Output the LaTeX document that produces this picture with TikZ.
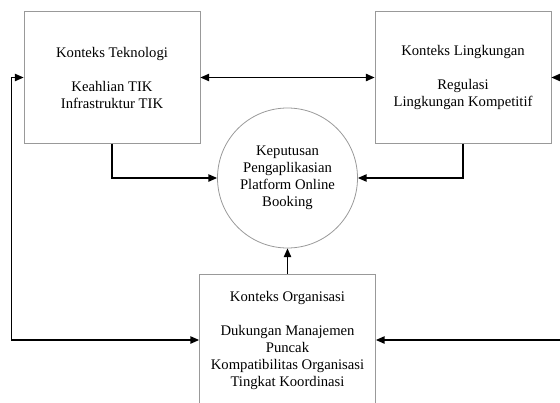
\documentclass[tikz,border=0pt]{standalone}
\usepackage{fontspec}
\setmainfont{Liberation Serif}
\usetikzlibrary{arrows.meta}

\begin{document}
\begin{tikzpicture}[
			x=0.75pt, y=-0.75pt,
			kotak/.style = {draw=gray!80, line width=0.6pt, minimum width=132pt, minimum height=98.5pt, align=center, font=\fontsize{11}{12.75}\selectfont},
			bulat/.style = {draw=gray!80, line width=0.6pt, circle, minimum size=105pt, inner sep=0pt, align=center, font=\fontsize{11}{12.75}\selectfont},
			panah/.style = {line width=0.9pt, -{Triangle[length=6.5pt,width=5.5pt]}},
			dua/.style = {line width=0.9pt, {Triangle[length=6.5pt,width=5.5pt]}-{Triangle[length=6.5pt,width=5.5pt]}}
		]
		\clip (0,0) rectangle (560,403);
		\node[kotak] (tek) at (112,77.5) {Konteks Teknologi\\[12.75pt]Keahlian TIK\\Infrastruktur TIK};
		\node[kotak] (ling) at (463,77.5) {Konteks Lingkungan\\[12.75pt]Regulasi\\Lingkungan Kompetitif};
		\node[bulat] (kep) at (287.5,178) {Keputusan\\Pengaplikasian\\Platform Online\\Booking};
		\node[kotak] (org) at (287.5,340) {Konteks Organisasi\\[12.75pt]Dukungan Manajemen\\Puncak\\Kompatibilitas Organisasi\\Tingkat Koordinasi};

		\draw[dua] (tek) -- (ling);
		\draw[dua] (tek.west) -- ++(-12,0) |- (org.west);
		\draw[dua] (ling.east) -- ++(25,0) |- (org.east);
		\draw[panah] (tek.south) |- (kep.west);
		\draw[panah] (ling.south) |- (kep.east);
		\draw[panah] (org.north) -- (kep.south);
	\end{tikzpicture}
\end{document}
